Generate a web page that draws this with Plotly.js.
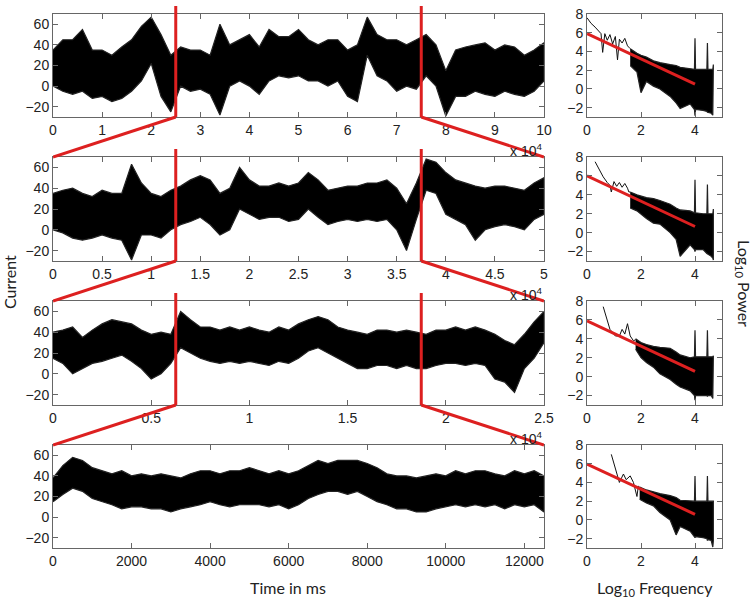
<!DOCTYPE html>
<html>
<head>
<meta charset="utf-8">
<script src="https://cdn.plot.ly/plotly-3.0.1.min.js"></script>
<style>html,body{margin:0;padding:0;background:#fff;}#chart{width:756px;height:600px;}</style>
</head>
<body>
<div id="chart"></div>
<script>
// ---------- time series envelopes (ms, Current) ----------
const p1T = [0,2000,4000,6000,8000,10000,12000,14000,16000,18000,20000,22000,24000,26000,28000,30000,32000,34000,36000,38000,40000,42000,44000,46000,48000,50000,52000,54000,56000,58000,60000,62000,64000,66000,68000,70000,72000,74000,76000,78000,80000,82000,84000,86000,88000,90000,92000,94000,96000,98000,100000];
const p1Hi = [35,45,45,55,35,35,30,38,45,58,67,50,30,38,35,35,30,60,40,45,50,38,55,48,48,55,45,40,45,45,35,40,67,50,45,45,40,45,50,40,15,35,38,40,42,35,40,38,30,35,42];
const p1Lo = [0,-5,-8,-5,-12,-10,-15,-12,-5,5,22,-10,-25,0,-5,-3,-8,-28,0,5,0,-8,5,10,8,10,5,5,0,5,-10,-15,30,10,5,-5,0,-3,10,0,-29,-10,-10,-5,-8,-10,-5,-8,-10,-5,5];

const p2T = [0,1000,2000,3000,4000,5000,6000,7000,8000,9000,10000,11000,12000,13000,14000,15000,16000,17000,18000,19000,20000,21000,22000,23000,24000,25000,26000,27000,28000,29000,30000,31000,32000,33000,34000,35000,36000,37000,38000,39000,40000,41000,42000,43000,44000,45000,46000,47000,48000,49000,50000];
const p2Hi = [35,38,40,35,32,38,35,35,63,45,35,32,38,42,48,52,48,35,40,60,48,42,42,45,42,45,55,48,38,40,42,42,45,45,48,40,25,45,68,65,55,48,45,42,40,42,42,40,38,45,50];
const p2Lo = [0,-3,-8,-10,-8,-5,-8,-10,-29,-5,-5,-8,0,5,8,12,5,-5,0,20,15,10,12,12,8,10,20,12,5,8,10,8,10,8,10,0,-20,10,38,35,15,10,5,-10,0,3,5,3,0,10,15];

const p3T = [0,500,1000,1500,2000,2500,3000,3500,4000,4500,5000,5500,6000,6500,7000,7500,8000,8500,9000,9500,10000,10500,11000,11500,12000,12500,13000,13500,14000,14500,15000,15500,16000,16500,17000,17500,18000,18500,19000,19500,20000,20500,21000,21500,22000,22500,23000,23500,24000,24500,25000];
const p3Hi = [40,42,45,35,42,48,52,50,48,42,38,40,38,60,52,45,45,42,45,42,45,42,40,45,42,48,52,55,52,45,42,40,38,42,42,40,42,40,38,42,42,45,42,45,42,38,32,28,38,50,60];
const p3Lo = [15,10,0,5,10,12,15,18,12,5,-5,0,10,25,20,15,12,10,12,10,12,10,8,12,10,15,22,25,20,15,10,5,5,8,8,5,8,5,5,8,10,10,8,10,8,-5,-8,-18,5,15,30];

const p4T = [0,250,500,750,1000,1250,1500,1750,2000,2250,2500,2750,3000,3250,3500,3750,4000,4250,4500,4750,5000,5250,5500,5750,6000,6250,6500,6750,7000,7250,7500,7750,8000,8250,8500,8750,9000,9250,9500,9750,10000,10250,10500,10750,11000,11250,11500,11750,12000,12250,12500];
const p4Hi = [38,50,58,55,48,45,42,45,40,42,40,42,40,38,42,45,45,42,45,45,48,45,42,45,42,45,50,55,52,55,55,55,52,48,42,40,40,38,40,42,40,45,42,45,45,42,40,45,42,45,40];
const p4Lo = [15,22,28,25,18,15,12,8,10,10,8,8,5,8,10,12,15,12,10,12,12,12,10,12,8,12,18,22,25,25,22,25,20,15,12,8,8,5,5,8,10,12,10,12,10,12,8,12,10,12,5];

// panel spans and zoom windows (ms)
const spans = [100000, 50000, 25000, 12500];
const winStart = [25000, 12500, 6250];
const winEnd = [75000, 37500, 18750];

// tick labels
const tickVals = [
  [0,10000,20000,30000,40000,50000,60000,70000,80000,90000,100000],
  [0,5000,10000,15000,20000,25000,30000,35000,40000,45000,50000],
  [0,5000,10000,15000,20000,25000],
  [0,2000,4000,6000,8000,10000,12000]
];
const tickText = [
  ['0','1','2','3','4','5','6','7','8','9','10'],
  ['0','0.5','1','1.5','2','2.5','3','3.5','4','4.5','5'],
  ['0','0.5','1','1.5','2','2.5'],
  ['0','2000','4000','6000','8000','10000','12000']
];
const yTicks = [-20,0,20,40,60];
const specYTicks = [-2,0,2,4,6,8];
const specXTicks = [0,2,4];

// ---------- spectra (Log10 Frequency, Log10 Power) ----------
const s1X = [0,0.15,0.3,0.43,0.52,0.58,0.66,0.75,0.85,0.95,1.05,1.13,1.2,1.3,1.4,1.5,1.6];
const s1Y = [7.6,7.0,6.6,6.2,5.9,3.9,5.9,5.2,5.8,4.8,5.6,3.1,5.3,4.9,5.4,4.6,4.3];
const b1X = [1.6,1.85,2.0,2.2,2.46,2.7,3.08,3.3,3.45,3.82,3.98,4.0,4.02,4.3,4.44,4.46,4.48,4.6,4.66,4.68];
const b1Hi = [4.3,3.8,3.6,3.4,3.0,2.8,2.6,2.5,2.3,2.2,2.1,5.4,2.1,2.1,2.1,4.9,2.1,2.1,2.1,2.6];
const b1Lo = [2.5,1.8,-0.4,0.8,0.3,0.0,-0.8,-1.5,-2.1,-1.6,-2.2,-2.85,-2.2,-2.3,-2.4,-2.5,-2.5,-2.6,-2.8,-2.7];

const s2X = [0.3,0.45,0.6,0.75,0.85,0.9,1.0,1.1,1.2,1.3,1.4,1.5,1.55,1.6];
const s2Y = [7.5,6.7,5.9,5.3,5.0,4.3,5.4,4.9,5.3,4.8,5.2,4.7,4.3,4.3];
const b2X = [1.6,1.85,2.2,2.46,2.7,3.08,3.3,3.45,3.82,3.98,4.0,4.02,4.3,4.44,4.46,4.48,4.6,4.66,4.68];
const b2Hi = [4.3,4.0,3.7,3.6,3.4,3.0,2.6,2.4,2.3,2.1,5.6,2.1,2.0,2.0,5.1,2.0,2.0,2.0,2.5];
const b2Lo = [2.6,2.3,1.5,1.0,0.9,0.0,-0.7,-2.5,-1.3,-1.8,-2.0,-1.8,-1.8,-2.2,-2.3,-2.3,-2.5,-2.7,-2.9];

const s3X = [0.6,0.7,0.85,1.05,1.2,1.3,1.4,1.5,1.6,1.72,1.8];
const s3Y = [7.4,6.5,5.0,4.3,4.3,5.0,4.5,5.6,4.3,3.8,3.9];
const b3X = [1.8,2.0,2.2,2.46,2.7,3.08,3.3,3.45,3.82,3.98,4.0,4.02,4.3,4.44,4.46,4.48,4.6,4.66,4.68];
const b3Hi = [4.0,3.6,3.4,3.2,3.1,3.0,2.6,2.3,2.0,2.1,4.9,2.1,2.1,2.1,4.9,2.1,2.1,2.1,2.2];
const b3Lo = [2.9,2.0,1.5,1.0,0.3,-0.3,-0.8,-1.1,-1.5,-2.0,-2.5,-2.0,-2.0,-2.0,-2.1,-2.0,-2.0,-2.3,-2.0];

const s4X = [0.9,1.05,1.2,1.35,1.45,1.6,1.72,1.85,1.9,1.95];
const s4Y = [7.0,5.5,4.0,4.9,4.3,4.7,4.0,2.5,3.6,3.5];
const b4X = [1.95,2.2,2.46,2.7,3.08,3.3,3.45,3.82,3.98,4.0,4.02,4.3,4.44,4.46,4.48,4.6,4.66,4.68];
const b4Hi = [3.5,3.2,3.0,2.8,2.6,2.4,2.1,2.0,2.0,4.7,2.0,2.0,2.0,4.7,2.0,2.0,2.0,2.0];
const b4Lo = [2.2,1.8,1.5,0.8,0.0,-1.6,-0.7,-1.2,-1.8,-1.9,-1.8,-1.9,-2.0,-2.2,-2.1,-2.2,-2.9,-2.2];

const fitX = [0, 4];
const fitY = [[5.9,0.5],[6.0,0.65],[5.9,0.55],[5.95,0.6]];

// ---------- build ----------
const FONT = 'Liberation Sans, Arial, sans-serif';
const LABFONT = 'Lato, Open Sans, sans-serif';
const RED = '#dd2020';
const W = 756, H = 600;
const leftDom = [53/W, 544/W];
const rightDom = [587/W, 722/W];
const rowDom = [[1-117/H, 1-14/H],[1-261/H, 1-157/H],[1-405/H, 1-301/H],[1-548/H, 1-445/H]];

function band(x, hi, lo, n) {
  return {x: x.concat(x.slice().reverse()), y: hi.concat(lo.slice().reverse()),
    mode:'lines', fill:'toself', fillcolor:'#000', line:{color:'#222', width:1.2},
    xaxis:'x'+n, yaxis:'y'+n, hoverinfo:'skip', showlegend:false};
}
function line(x, y, n, color, width) {
  return {x:x, y:y, mode:'lines', line:{color:color, width:width}, xaxis:'x'+n, yaxis:'y'+n, hoverinfo:'skip', showlegend:false};
}

const series = [[p1T,p1Hi,p1Lo],[p2T,p2Hi,p2Lo],[p3T,p3Hi,p3Lo],[p4T,p4Hi,p4Lo]];
const spec = [[s1X,s1Y,b1X,b1Hi,b1Lo],[s2X,s2Y,b2X,b2Hi,b2Lo],[s3X,s3Y,b3X,b3Hi,b3Lo],[s4X,s4Y,b4X,b4Hi,b4Lo]];

const traces = [];
series.forEach((s,i) => traces.push(band(s[0], s[1], s[2], i+1)));
spec.forEach((s,i) => {
  traces.push(line(s[0], s[1], i+5, '#111', 1));
  traces.push(band(s[2], s[3], s[4], i+5));
  traces.push(line(fitX, fitY[i], i+5, RED, 3));
});

const axBase = {showline:true, linecolor:'#666', linewidth:1, mirror:'ticks', ticks:'inside', ticklen:5,
  tickcolor:'#666', showgrid:false, zeroline:false, fixedrange:true,
  tickfont:{family:FONT, size:14, color:'#222'}};

const layout = {width:W, height:H, margin:{l:0,r:0,t:0,b:0}, paper_bgcolor:'#fff', plot_bgcolor:'#fff',
  showlegend:false, shapes:[], annotations:[]};

for (let i=0;i<4;i++) {
  layout['xaxis'+(i+1)] = Object.assign({}, axBase, {domain:leftDom, anchor:'y'+(i+1), range:[0,spans[i]],
    tickmode:'array', tickvals:tickVals[i], ticktext:tickText[i]});
  layout['yaxis'+(i+1)] = Object.assign({}, axBase, {domain:rowDom[i], anchor:'x'+(i+1), range:[-30,70],
    tickmode:'array', tickvals:yTicks});
  layout['xaxis'+(i+5)] = Object.assign({}, axBase, {domain:rightDom, anchor:'y'+(i+5), range:[0,5],
    tickmode:'array', tickvals:specXTicks});
  layout['yaxis'+(i+5)] = Object.assign({}, axBase, {domain:rowDom[i], anchor:'x'+(i+5), range:[-3,8],
    tickmode:'array', tickvals:specYTicks});
}

for (let i=0;i<3;i++) {
  const xr = 'x'+(i+1);
  const bot = rowDom[i][0], top = rowDom[i][1] + 8/H, nextTop = rowDom[i+1][1];
  const ln = {color:RED, width:3};
  layout.shapes.push({type:'line', xref:xr, yref:'paper', x0:winStart[i], x1:winStart[i], y0:bot, y1:top, line:ln});
  layout.shapes.push({type:'line', xref:xr, yref:'paper', x0:winEnd[i], x1:winEnd[i], y0:bot, y1:top, line:ln});
  layout.shapes.push({type:'line', xref:xr, yref:'paper', x0:winStart[i], x1:0, y0:bot, y1:nextTop, line:ln});
  layout.shapes.push({type:'line', xref:xr, yref:'paper', x0:winEnd[i], x1:spans[i], y0:bot, y1:nextTop, line:ln});
  layout.annotations.push({text:'x 10<sup>4</sup>', xref:xr, yref:'paper', x:spans[i], y:rowDom[i][0]-33/H,
    xanchor:'right', yanchor:'middle', showarrow:false, font:{family:FONT, size:14, color:'#222'}});
}

const labFont = {family:LABFONT, size:16, color:'#222'};
layout.annotations.push({text:'Current', xref:'paper', yref:'paper', x:9/W, y:1-282/H, textangle:-90,
  xanchor:'center', yanchor:'middle', showarrow:false, font:labFont});
layout.annotations.push({text:'Time in ms', xref:'paper', yref:'paper', x:288/W, y:1-587/H,
  xanchor:'center', yanchor:'middle', showarrow:false, font:labFont});
layout.annotations.push({text:'Log<sub>10</sub> Frequency', xref:'paper', yref:'paper', x:655/W, y:1-588/H,
  xanchor:'center', yanchor:'middle', showarrow:false, font:labFont});
layout.annotations.push({text:'Log<sub>10</sub> Power', xref:'paper', yref:'paper', x:744/W, y:1-283/H, textangle:90,
  xanchor:'center', yanchor:'middle', showarrow:false, font:labFont});

Plotly.newPlot('chart', traces, layout, {staticPlot:true, displayModeBar:false});
</script>
</body>
</html>
